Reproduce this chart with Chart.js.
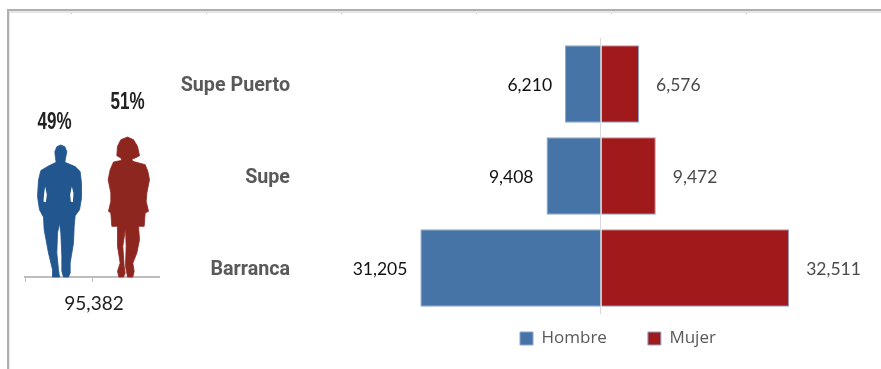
<!DOCTYPE html>
<html>
<head>
<meta charset="utf-8">
<title>Población por sexo</title>
<script src="https://cdn.jsdelivr.net/npm/chart.js@4/dist/chart.umd.min.js"></script>
<style>
  html, body { margin: 0; padding: 0; background: #fff; overflow: hidden; }
  #page { position: relative; width: 881px; height: 369px; }
  #frame { position: absolute; left: 7px; top: 9px; right: 0; bottom: 0;
           border-left: 2px solid #b0b0b0; border-top: 2px solid #b0b0b0;
           box-shadow: inset 1px 2px 0 #e6e6e6;
           background: linear-gradient(90deg, #c4c4c4 1px, transparent 1px) 62px 0 / 135px 3px repeat-x; }
  #pyramidBox { position: absolute; left: 0; top: 0; width: 881px; height: 369px; }
  #figuresBox { position: absolute; left: 0; top: 0; width: 170px; height: 369px; }
</style>
</head>
<body>
<div id="page">
  <div id="frame"></div>
  <div id="pyramidBox"><canvas id="pyramid"></canvas></div>
  <div id="figuresBox"><canvas id="figures"></canvas></div>
</div>
<script>
"use strict";

/* ─── DATA ─── */
const districts = ["Supe Puerto", "Supe", "Barranca"];
const hombre = [6210, 9408, 31205];
const mujer = [6576, 9472, 32511];
const totalLabel = ["95,382"];
const pctHombre = [49];
const pctMujer = [51];

/* ─── COLORS ─── */
const C = {
  blue: "#4774a6", red: "#a01a1c", barEdge: "#8ea3cc",
  manFill: "#22568f", womanFill: "#8e2620",
  label: "#595959", dark: "#222222", axis: "#bdbdbd", zero: "#d9d9d9",
};
const numFont = "Lato, 'Open Sans', sans-serif";
const fmt = v => Math.abs(v).toLocaleString("en-US");

/* ─── PYRAMID VALUE LABELS ─── */
const barLabels = {
  id: "barLabels",
  afterDatasetsDraw(chart) {
    const ctx = chart.ctx;
    ctx.save();
    ctx.font = "17.5px " + numFont;
    ctx.textBaseline = "middle";
    chart.data.datasets.forEach((ds, i) => {
      chart.getDatasetMeta(i).data.forEach((bar, j) => {
        const left = ds.data[j] < 0;
        ctx.fillStyle = left ? "#111111" : "#4a4a4a";
        ctx.textAlign = left ? "right" : "left";
        ctx.fillText(fmt(ds.data[j]), bar.x + (left ? -13 : 17), bar.y + 1);
      });
    });
    ctx.restore();
  },
};

/* moves the legend under the right half of the chart */
const legendPlace = {
  id: "legendPlace",
  afterLayout(chart) {
    const l = chart.legend;
    l.left = 479;
    l.right = 881;
    l.top = 289;
    l.bottom = 369;
  },
};

new Chart(document.getElementById("pyramid"), {
  type: "bar",
  data: {
    labels: districts,
    datasets: [
      { label: "Hombre", data: hombre.map(v => -v), backgroundColor: C.blue, borderColor: C.barEdge, borderWidth: 1 },
      { label: "Mujer", data: mujer, backgroundColor: C.red, borderColor: C.barEdge, borderWidth: 1 },
    ],
  },
  plugins: [barLabels, legendPlace],
  options: {
    indexAxis: "y",
    responsive: true, maintainAspectRatio: false, animation: false,
    layout: { padding: { top: 38, bottom: 5, right: 8 } },
    datasets: { bar: { barPercentage: 0.84, categoryPercentage: 1 } },
    plugins: {
      tooltip: { enabled: false },
      legend: {
        position: "bottom", align: "start", maxHeight: 50,
        labels: {
          boxWidth: 13, boxHeight: 13, padding: 41, color: C.label,
          font: { family: "'Open Sans', sans-serif", size: 17 },
        },
      },
    },
    scales: {
      x: {
        stacked: true, min: -52000, max: 47000,
        afterBuildTicks: s => { s.ticks = [{ value: 0 }]; },
        ticks: { display: false },
        border: { display: false },
        grid: { color: C.zero, lineWidth: 1, drawTicks: false },
      },
      y: {
        stacked: true,
        afterFit: s => { s.width = 300; },
        border: { display: false },
        grid: { display: false, drawTicks: false },
        ticks: {
          padding: 10, labelOffset: 2, color: C.label,
          font: { family: "Roboto, 'Liberation Sans', sans-serif", size: 19.7, weight: "bold" },
        },
      },
    },
  },
});

/* ─── SILHOUETTES ─── */
// outlines traced on a grid three times finer than the page, feet at y = 442
const manShape = {
  cx: 118, top: 45,
  outline: [
    [122, 45], [134, 50], [140, 65], [136, 85], [134, 97], [165, 110], [180, 125], [184, 160], [184, 205],
    [178, 240], [165, 258], [162, 290], [160, 340], [150, 400], [150, 430], [145, 442], [130, 442], [125, 425],
    [125, 380], [122, 310], [118, 280], [112, 310], [110, 370], [115, 420], [118, 442], [97, 442], [97, 420],
    [85, 370], [72, 300], [70, 262], [58, 240], [52, 200], [55, 150], [62, 122], [85, 108], [108, 97],
    [106, 85], [104, 65], [110, 50],
  ],
  slits: [
    [[155, 170], [160, 190], [158, 217], [152, 215], [150, 195]],
    [[75, 170], [80, 195], [77, 217], [70, 215], [72, 190]],
  ],
};
const womanShape = {
  cx: 325, top: 22,
  outline: [
    [322, 22], [340, 30], [352, 50], [358, 78], [345, 85], [335, 88], [338, 95], [375, 105], [383, 125],
    [388, 150], [380, 190], [378, 215], [385, 245], [375, 250], [372, 290], [355, 290], [358, 330], [350, 370],
    [338, 400], [342, 425], [338, 442], [322, 442], [316, 410], [318, 350], [316, 295], [308, 350], [312, 410],
    [315, 430], [310, 442], [296, 442], [292, 425], [300, 400], [292, 350], [292, 290], [275, 290], [272, 250],
    [265, 245], [272, 215], [272, 190], [264, 150], [270, 120], [280, 97], [305, 92], [302, 85], [290, 78],
    [292, 50], [302, 30],
  ],
  slits: [],
};
const figureStyle = [
  { shape: manShape, fill: C.manFill, dx: 1, labelDx: -5, labelUp: 22 },
  { shape: womanShape, fill: C.womanFill, dx: 3, labelDx: -1, labelUp: 34 },
];

const silhouettes = {
  id: "silhouettes",
  afterDatasetsDraw(chart) {
    const ctx = chart.ctx;
    const foot = chart.scales.y.bottom;
    ctx.save();
    chart.data.datasets.forEach((ds, i) => {
      const bar = chart.getDatasetMeta(i).data[0];
      const st = figureStyle[i];
      const cx = bar.x + st.dx;
      const s = st.shape;
      const k = (foot - bar.y) / (442 - s.top);
      const trace = pts => {
        pts.forEach(([px, py], n) => {
          const x = cx + (px - s.cx) / 3, y = foot - (442 - py) * k;
          if (n === 0) ctx.moveTo(x, y); else ctx.lineTo(x, y);
        });
        ctx.closePath();
      };
      ctx.beginPath();
      trace(s.outline);
      s.slits.forEach(trace);
      ctx.fillStyle = st.fill;
      ctx.fill("evenodd");
      ctx.beginPath();
      trace(s.outline);
      ctx.strokeStyle = st.fill;
      ctx.lineWidth = 0.8;
      ctx.lineJoin = "round";
      ctx.stroke();

      // narrow bold percentage over each figure
      ctx.save();
      ctx.translate(cx + st.labelDx, bar.y - st.labelUp);
      ctx.scale(0.74, 1);
      ctx.fillStyle = C.dark;
      ctx.font = "bold 23px 'Liberation Sans', sans-serif";
      ctx.textAlign = "center";
      ctx.textBaseline = "middle";
      ctx.fillText(ds.data[0] + "%", 0, 0);
      ctx.restore();
    });
    // tick at the left end of the axis
    const xs = chart.scales.x;
    ctx.strokeStyle = C.axis;
    ctx.lineWidth = 1;
    ctx.beginPath();
    ctx.moveTo(xs.left + 0.5, xs.top);
    ctx.lineTo(xs.left + 0.5, xs.top + 5);
    ctx.stroke();
    ctx.restore();
  },
};

new Chart(document.getElementById("figures"), {
  type: "bar",
  data: {
    labels: totalLabel,
    datasets: [
      { label: "Hombre", data: pctHombre, backgroundColor: "rgba(0,0,0,0)" },
      { label: "Mujer", data: pctMujer, backgroundColor: "rgba(0,0,0,0)" },
    ],
  },
  plugins: [silhouettes],
  options: {
    responsive: true, maintainAspectRatio: false, animation: false,
    layout: { padding: { left: 25, right: 11, top: 97 } },
    datasets: { bar: { barPercentage: 0.7, categoryPercentage: 1 } },
    plugins: { legend: { display: false }, tooltip: { enabled: false } },
    scales: {
      y: { display: false, min: 16, max: 61 },
      x: {
        afterFit: s => { s.height = 92; },
        border: { color: C.axis, width: 2 },
        grid: { color: C.axis, drawOnChartArea: false, tickLength: 5, offset: false },
        ticks: { color: "#222222", padding: 10, labelOffset: 2, maxRotation: 0, font: { family: numFont, size: 19 } },
      },
    },
  },
});
</script>
</body>
</html>
